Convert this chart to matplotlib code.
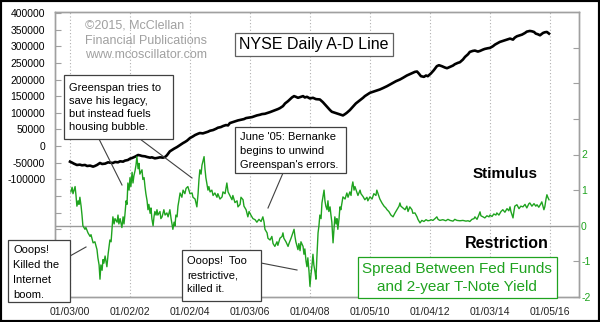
import numpy as np
import matplotlib.pyplot as plt
from matplotlib.patches import Rectangle
from matplotlib.lines import Line2D

plt.rcParams['font.family'] = ['Liberation Sans', 'DejaVu Sans']

GREEN = '#1fa31f'
GRAY = '#a0a0a0'

# NYSE daily A-D line (decimal year, cumulative value)
ad_years = [2000.00, 2000.07, 2000.13, 2000.23, 2000.33, 2000.40, 2000.50, 2000.57, 2000.67, 2000.77,
            2000.83, 2000.90, 2001.00, 2001.07, 2001.17, 2001.27, 2001.33, 2001.43, 2001.50, 2001.60,
            2001.67, 2001.77, 2001.83, 2001.93, 2002.00, 2002.07, 2002.17, 2002.27, 2002.33, 2002.40,
            2002.50, 2002.57, 2002.67, 2002.73, 2002.83, 2002.90, 2003.00, 2003.10, 2003.17, 2003.23,
            2003.33, 2003.40, 2003.47, 2003.57, 2003.67, 2003.77, 2003.83, 2003.90, 2004.00, 2004.10,
            2004.17, 2004.27, 2004.33, 2004.43, 2004.50, 2004.60, 2004.67, 2004.77, 2004.87, 2004.93,
            2005.03, 2005.10, 2005.20, 2005.27, 2005.33, 2005.43, 2005.53, 2005.60, 2005.70, 2005.80,
            2005.87, 2006.00, 2006.07, 2006.17, 2006.23, 2006.33, 2006.40, 2006.50, 2006.57, 2006.67,
            2006.73, 2006.83, 2006.93, 2007.00, 2007.10, 2007.17, 2007.27, 2007.33, 2007.40, 2007.47,
            2007.53, 2007.60, 2007.67, 2007.77, 2007.83, 2007.90, 2008.00, 2008.10, 2008.20, 2008.33,
            2008.43, 2008.50, 2008.57, 2008.67, 2008.73, 2008.83, 2008.90, 2009.00, 2009.10, 2009.17,
            2009.23, 2009.33, 2009.40, 2009.47, 2009.53, 2009.60, 2009.67, 2009.77, 2009.83, 2009.93,
            2010.00, 2010.10, 2010.17, 2010.27, 2010.33, 2010.43, 2010.57, 2010.67, 2010.77, 2010.87,
            2011.00, 2011.10, 2011.23, 2011.33, 2011.43, 2011.50, 2011.57, 2011.63, 2011.70, 2011.80,
            2011.87, 2011.93, 2012.03, 2012.13, 2012.23, 2012.30, 2012.40, 2012.50, 2012.57, 2012.67,
            2012.77, 2012.83, 2012.93, 2013.00, 2013.10, 2013.17, 2013.27, 2013.33, 2013.43, 2013.50,
            2013.60, 2013.67, 2013.77, 2013.83, 2013.93, 2014.00, 2014.10, 2014.17, 2014.27, 2014.33,
            2014.43, 2014.50, 2014.60, 2014.67, 2014.77, 2014.83, 2014.90, 2015.00, 2015.07, 2015.17,
            2015.23, 2015.33, 2015.40, 2015.47, 2015.53, 2015.60, 2015.67, 2015.70, 2015.77, 2015.83,
            2015.90, 2015.97]
ad_values = [-47000, -50000, -53000, -57000, -56000, -58000, -57000, -60000, -59000, -62000,
             -60000, -57000, -51000, -54000, -53000, -49000, -50000, -51000, -48000, -49000,
             -46000, -47000, -44000, -42000, -38000, -36000, -32000, -27000, -28000, -30000,
             -31000, -33000, -35000, -34000, -37000, -36000, -34000, -35000, -33000, -28000,
             -16000, -12000, -8000, -3000, 3000, 9000, 12000, 16000, 24000, 29000,
             33000, 37000, 39000, 38000, 40000, 43000, 46000, 48000, 52000, 55000,
             57000, 60000, 63000, 62000, 69000, 72000, 75000, 77000, 79000, 81000,
             84000, 86000, 87000, 90000, 92000, 94000, 96000, 97000, 99000, 102000,
             104000, 107000, 111000, 114000, 120000, 128000, 135000, 140000, 146000, 150000,
             148000, 145000, 147000, 150000, 146000, 148000, 143000, 145000, 141000, 140000,
             132000, 125000, 118000, 108000, 103000, 100000, 98000, 95000, 92000, 96000,
             100000, 108000, 115000, 122000, 128000, 133000, 138000, 145000, 150000, 156000,
             160000, 163000, 165000, 168000, 170000, 174000, 180000, 185000, 190000, 195000,
             200000, 205000, 212000, 216000, 220000, 223000, 224000, 218000, 210000, 208000,
             212000, 210000, 218000, 228000, 240000, 243000, 240000, 236000, 234000, 238000,
             242000, 246000, 250000, 252000, 260000, 268000, 276000, 283000, 286000, 287000,
             284000, 286000, 290000, 292000, 294000, 295000, 300000, 305000, 310000, 313000,
             316000, 318000, 321000, 323000, 320000, 326000, 330000, 333000, 335000, 340000,
             344000, 346000, 345000, 343000, 338000, 336000, 333000, 335000, 340000, 342000,
             343000, 338000]

# spread between 2-year T-note yield and Fed Funds (percentage points)
spread_years = [2000.03, 2000.07, 2000.10, 2000.17, 2000.20, 2000.23, 2000.27, 2000.30, 2000.33, 2000.37,
                2000.40, 2000.43, 2000.50, 2000.53, 2000.60, 2000.67, 2000.70, 2000.77, 2000.83, 2000.90,
                2000.93, 2000.97, 2001.00, 2001.03, 2001.07, 2001.10, 2001.13, 2001.17, 2001.23, 2001.27,
                2001.30, 2001.33, 2001.37, 2001.40, 2001.43, 2001.47, 2001.50, 2001.57, 2001.60, 2001.63,
                2001.67, 2001.73, 2001.77, 2001.80, 2001.83, 2001.87, 2001.90, 2001.93, 2001.97, 2002.00,
                2002.03, 2002.07, 2002.10, 2002.13, 2002.17, 2002.20, 2002.23, 2002.27, 2002.30, 2002.33,
                2002.40, 2002.43, 2002.47, 2002.50, 2002.53, 2002.57, 2002.60, 2002.63, 2002.67, 2002.70,
                2002.73, 2002.77, 2002.80, 2002.83, 2002.87, 2002.90, 2002.93, 2003.00, 2003.03, 2003.07,
                2003.13, 2003.17, 2003.23, 2003.27, 2003.33, 2003.37, 2003.40, 2003.43, 2003.47, 2003.50,
                2003.53, 2003.57, 2003.60, 2003.63, 2003.67, 2003.73, 2003.77, 2003.83, 2003.87, 2003.93,
                2004.00, 2004.07, 2004.10, 2004.17, 2004.23, 2004.27, 2004.30, 2004.33, 2004.37, 2004.40,
                2004.43, 2004.47, 2004.50, 2004.53, 2004.57, 2004.60, 2004.63, 2004.67, 2004.73, 2004.77,
                2004.83, 2004.90, 2004.93, 2005.00, 2005.07, 2005.10, 2005.17, 2005.20, 2005.23, 2005.27,
                2005.33, 2005.40, 2005.43, 2005.50, 2005.57, 2005.60, 2005.67, 2005.70, 2005.77, 2005.80,
                2005.87, 2005.93, 2005.97, 2006.03, 2006.10, 2006.17, 2006.23, 2006.30, 2006.37, 2006.43,
                2006.47, 2006.50, 2006.57, 2006.60, 2006.67, 2006.73, 2006.77, 2006.83, 2006.90, 2006.93,
                2007.00, 2007.07, 2007.10, 2007.13, 2007.20, 2007.27, 2007.30, 2007.37, 2007.43, 2007.47,
                2007.50, 2007.53, 2007.60, 2007.63, 2007.67, 2007.70, 2007.77, 2007.80, 2007.83, 2007.87,
                2007.90, 2007.93, 2007.97, 2008.00, 2008.03, 2008.07, 2008.10, 2008.13, 2008.17, 2008.20,
                2008.23, 2008.27, 2008.30, 2008.33, 2008.37, 2008.40, 2008.43, 2008.47, 2008.50, 2008.53,
                2008.57, 2008.60, 2008.63, 2008.67, 2008.70, 2008.73, 2008.77, 2008.80, 2008.83, 2008.87,
                2008.90, 2008.93, 2008.97, 2009.00, 2009.03, 2009.07, 2009.10, 2009.17, 2009.23, 2009.27,
                2009.33, 2009.37, 2009.40, 2009.43, 2009.47, 2009.50, 2009.57, 2009.60, 2009.67, 2009.70,
                2009.77, 2009.83, 2009.90, 2009.93, 2010.00, 2010.07, 2010.13, 2010.20, 2010.23, 2010.27,
                2010.33, 2010.40, 2010.47, 2010.53, 2010.57, 2010.63, 2010.70, 2010.77, 2010.83, 2010.90,
                2010.97, 2011.00, 2011.03, 2011.10, 2011.17, 2011.23, 2011.27, 2011.33, 2011.40, 2011.43,
                2011.50, 2011.57, 2011.60, 2011.67, 2011.73, 2011.80, 2011.87, 2011.93, 2012.00, 2012.03,
                2012.10, 2012.17, 2012.23, 2012.27, 2012.33, 2012.43, 2012.53, 2012.60, 2012.67, 2012.77,
                2012.83, 2012.90, 2013.00, 2013.10, 2013.20, 2013.27, 2013.33, 2013.40, 2013.47, 2013.50,
                2013.57, 2013.63, 2013.67, 2013.70, 2013.77, 2013.83, 2013.90, 2013.97, 2014.00, 2014.07,
                2014.13, 2014.20, 2014.23, 2014.30, 2014.37, 2014.43, 2014.50, 2014.57, 2014.63, 2014.67,
                2014.70, 2014.77, 2014.80, 2014.83, 2014.90, 2014.97, 2015.03, 2015.10, 2015.17, 2015.23,
                2015.30, 2015.33, 2015.40, 2015.47, 2015.53, 2015.57, 2015.63, 2015.70, 2015.73, 2015.80,
                2015.83, 2015.87, 2015.90, 2015.93, 2015.97]
spread_values = [0.95, 1.08, 0.90, 1.10, 0.85, 0.55, 0.70, 0.60, 0.80, 0.55,
                 0.30, 0.00, -0.10, -0.05, -0.20, -0.30, -0.25, -0.48, -0.45, -0.67,
                 -0.90, -1.10, -1.50, -1.10, -1.25, -0.95, -1.05, -0.85, -1.15, -0.80,
                 -0.60, -0.40, -0.45, -0.10, 0.25, 0.05, 0.20, 0.10, 0.30, 0.05,
                 0.20, -0.05, 0.25, 0.05, 0.30, 0.70, 0.60, 1.20, 1.00, 1.35,
                 1.10, 1.50, 1.20, 1.40, 1.55, 1.70, 1.94, 1.60, 1.75, 1.45,
                 1.57, 1.30, 1.35, 1.10, 0.90, 0.70, 0.45, 0.60, 0.35, 0.50,
                 0.20, 0.00, 0.25, 0.40, 0.30, 0.45, 0.30, 0.40, 0.20, 0.25,
                 0.45, 0.30, 0.36, 0.25, 0.45, 0.20, 0.05, -0.10, 0.10, 0.00,
                 0.30, 0.25, 0.55, 0.70, 0.92, 0.80, 1.00, 0.90, 1.05, 1.10,
                 0.90, 0.92, 0.80, 0.75, 0.53, 0.90, 1.30, 1.57, 1.45, 1.70,
                 1.80, 1.94, 1.60, 1.35, 1.15, 1.00, 1.10, 0.95, 1.00, 0.85,
                 0.92, 0.80, 0.90, 0.75, 0.81, 0.95, 0.90, 1.05, 1.20, 0.95,
                 0.85, 0.73, 0.85, 0.65, 0.70, 0.53, 0.60, 0.80, 0.73, 0.55,
                 0.45, 0.25, 0.40, 0.30, 0.20, 0.17, 0.10, 0.18, 0.12, 0.25,
                 0.10, -0.10, -0.20, -0.35, -0.40, -0.30, -0.50, -0.58, -0.45, -0.55,
                 -0.35, -0.30, -0.20, -0.35, -0.45, -0.58, -0.50, -0.35, -0.20, -0.10,
                 -0.30, -0.45, -0.67, -0.50, -0.70, -0.45, -0.58, -0.80, -0.65, -1.00,
                 -1.15, -0.90, -1.30, -1.70, -1.40, -1.10, -0.80, -1.10, -1.30, -1.50,
                 -0.90, -0.20, 0.00, 0.30, 0.20, 0.64, 0.80, 1.00, 0.70, 0.55,
                 0.45, 0.70, 0.40, 0.53, 0.30, 0.10, -0.48, -0.10, 0.25, 0.05,
                 0.20, -0.10, 0.20, 0.53, 0.45, 0.65, 0.81, 0.75, 0.92, 0.80,
                 0.95, 0.85, 1.10, 1.23, 1.00, 1.10, 0.92, 0.85, 1.00, 0.90,
                 0.82, 0.73, 0.80, 0.70, 0.81, 0.75, 0.90, 0.85, 1.00, 0.90,
                 0.75, 0.64, 0.55, 0.50, 0.45, 0.40, 0.30, 0.25, 0.35, 0.45,
                 0.55, 0.64, 0.55, 0.50, 0.45, 0.55, 0.40, 0.53, 0.45, 0.35,
                 0.36, 0.25, 0.18, 0.08, 0.15, 0.12, 0.17, 0.14, 0.15, 0.17,
                 0.15, 0.20, 0.25, 0.18, 0.15, 0.17, 0.14, 0.18, 0.15, 0.13,
                 0.18, 0.15, 0.14, 0.15, 0.13, 0.14, 0.12, 0.18, 0.20, 0.25,
                 0.18, 0.30, 0.39, 0.28, 0.25, 0.22, 0.28, 0.25, 0.30, 0.26,
                 0.33, 0.30, 0.36, 0.30, 0.40, 0.45, 0.38, 0.48, 0.42, 0.53,
                 0.40, 0.22, 0.40, 0.55, 0.59, 0.48, 0.55, 0.53, 0.60, 0.50,
                 0.62, 0.64, 0.55, 0.62, 0.55, 0.59, 0.52, 0.62, 0.67, 0.45,
                 0.53, 0.75, 0.87, 0.80, 0.73]

x_tick_years = [2000, 2002, 2004, 2006, 2008, 2010, 2012, 2014, 2016]
x_tick_labels = ['01/03/00', '01/02/02', '01/02/04', '01/03/06', '01/04/08',
                 '01/05/10', '01/04/12', '01/03/14', '01/05/16']

W, H = 600, 322


def fx(x):
    return x / W


def fy(y):
    return 1 - y / H


fig = plt.figure(figsize=(6, 3.22), dpi=100)
ax = fig.add_axes([fx(55), fy(297), (579 - 55) / W, (297 - 12) / H])
ax2 = ax.twinx()

ax.plot(ad_years, ad_values, color='black', lw=1.9, zorder=3)
ax2.axhline(0, color='#999999', lw=1, zorder=1)
ax2.plot(spread_years, spread_values, color=GREEN, lw=1.0, zorder=2)

ax.set_xlim(1999.5, 2016.97)
ax.set_ylim(-454000, 403000)
ax2.set_ylim(-2, 6)

# left axis
left_ticks = np.arange(-450000, 400001, 50000)
ax.set_yticks(left_ticks)
ax.set_yticklabels([str(v) if v >= -100000 else '' for v in left_ticks])
ax.tick_params(axis='y', direction='in', length=4, color=GRAY, pad=7,
               labelsize=7.5, labelcolor='black')

# right axis
right_ticks = list(range(-2, 6))
ax2.set_yticks(right_ticks)
ax2.set_yticklabels([str(v) if v <= 2 else '' for v in right_ticks])
ax2.tick_params(axis='y', direction='in', length=4, color=GRAY, pad=1.5,
                labelsize=7.5, labelcolor=GREEN)

ax.set_xticks(x_tick_years)
ax.set_xticklabels(x_tick_labels)
ax.tick_params(axis='x', length=0, pad=7, labelsize=7.5, labelcolor='#222222')
ax.grid(axis='x', linestyle=(0, (1, 2)), color='#b0b0b0', lw=0.8)

for a in (ax, ax2):
    for s in a.spines.values():
        s.set_color(GRAY)
        s.set_linewidth(1)

# copyright note
for i, line in enumerate(['\u00a92015, McClellan', 'Financial Publications', 'www.mcoscillator.com']):
    fig.text(fx(85), fy(26 + i * 14.5), line, color=GRAY, fontsize=9, va='center', ha='left')


def boxed(lines, box, x0, y0, pitch, size, color='black', edge='#404040', ha='left'):
    bx0, by0, bx1, by1 = box
    fig.patches.append(Rectangle((fx(bx0), fy(by1)), (bx1 - bx0) / W, (by1 - by0) / H,
                                 transform=fig.transFigure, facecolor='white',
                                 edgecolor=edge, lw=0.9, zorder=5))
    for i, line in enumerate(lines):
        fig.text(fx(x0), fy(y0 + i * pitch), line, fontsize=size, color=color,
                 ha=ha, va='center', zorder=6)


def leader(x0, y0, x1, y1):
    fig.lines.append(Line2D([fx(x0), fx(x1)], [fy(y0), fy(y1)], transform=fig.transFigure,
                            color='#404040', lw=0.8, zorder=4))


boxed(['NYSE Daily A-D Line'], (235, 33, 393, 56), 314, 44.5, 0, 11.5, ha='center', edge='#606060')
boxed(['Greenspan tries to', 'save his legacy,', 'but instead fuels', 'housing bubble.'],
      (64, 75, 173, 139), 69, 88, 13, 8)
leader(99, 139, 122, 185)
leader(140, 139, 192, 178)
boxed(['June \'05: Bernanke', 'begins to unwind', 'Greenspan\'s errors.'],
      (235, 127, 346, 173), 240, 137, 14, 8)
leader(283, 173, 268, 208)
boxed(['Ooops!', 'Killed the', 'Internet', 'boom.'], (8, 240, 70, 302), 13, 250, 15, 8)
leader(70, 256, 86, 247)
boxed(['Ooops!  Too', 'restrictive,', 'killed it.'], (182, 250, 261, 301), 187, 261, 14, 8)
leader(261, 263, 297, 270)
boxed(['Spread Between Fed Funds', 'and 2-year T-Note Yield'], (358, 257, 557, 298),
      457, 269, 18, 11, color=GREEN, edge=GREEN, ha='center')

fig.text(fx(505), fy(174), 'Stimulus', fontsize=11, fontweight='bold', ha='center', va='center')
fig.text(fx(507), fy(243), 'Restriction', fontsize=11.5, fontweight='bold', ha='center', va='center')

# outer frame
fig.patches.append(Rectangle((0, 0), 1, 1, transform=fig.transFigure, fill=False,
                             edgecolor='black', lw=3, zorder=10))

fig.savefig('out.png', dpi=100)
